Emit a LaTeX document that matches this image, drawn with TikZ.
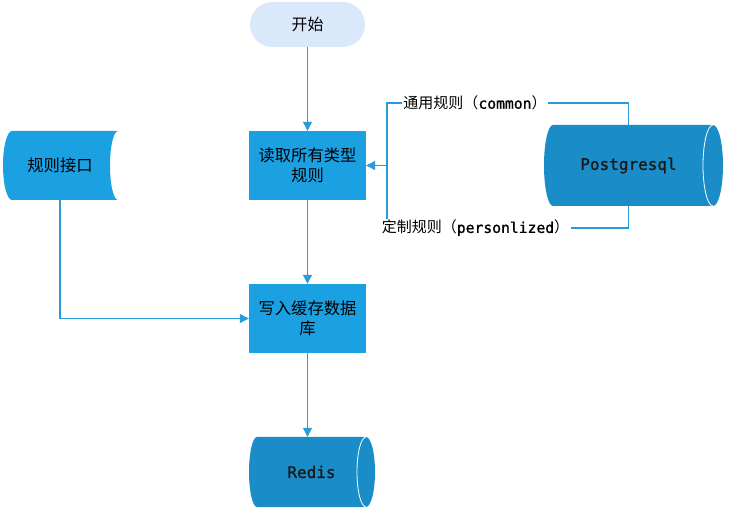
\documentclass[tikz,border=0pt]{standalone}
\usepackage{fontspec}
\setmainfont{Noto Sans CJK SC}
\newfontfamily\monof[FakeBold=1.2]{DejaVu Sans Mono}
\usetikzlibrary{arrows.meta}
\definecolor{boxblue}{HTML}{1BA1E2}
\definecolor{cylblue}{HTML}{1A8CC8}
\definecolor{startblue}{HTML}{DAE8FC}
\definecolor{linecol}{HTML}{2A9BD8}
\tikzset{
  procbox/.style={fill=boxblue, minimum width=117pt, minimum height=69pt, inner sep=2pt, align=center, font=\fontsize{16.3}{20.5}\selectfont, text width=112pt},
  startbox/.style={fill=startblue, rounded corners=22.5pt, minimum width=115pt, minimum height=45pt, font=\fontsize{16}{20}\selectfont},
  conn/.style={draw=linecol, line width=1.2pt},
  arr/.style={conn, -{Triangle[length=9pt,width=9pt]}},
  lbl/.style={fill=white, inner sep=1.5pt, font=\fontsize{15}{17}\selectfont},
  cyltext/.style={font=\monof\fontsize{16}{19}\selectfont, text=black!90},
}
\newcommand{\lbmono}[1]{{\monof\fontsize{14.7}{15}\selectfont #1}}
\begin{document}
\begin{tikzpicture}[x=1pt,y=1pt]
\useasboundingbox (0,0) rectangle (729,512);
% stored-data shape
\fill[boxblue] (12,381) -- (118,381) arc[start angle=90,end angle=270,x radius=8,y radius=34.5]
  -- (12,312) arc[start angle=270,end angle=90,x radius=9,y radius=34.5] -- cycle;
\node[minimum width=116pt,minimum height=69pt,font=\fontsize{16.3}{20}\selectfont] (api) at (60,346.5) {规则接口};
% Postgresql cylinder
\fill[cylblue] (553,387) -- (713,387) arc[start angle=90,end angle=-90,x radius=10,y radius=40.5]
  -- (553,306) arc[start angle=270,end angle=90,x radius=9,y radius=40.5] -- cycle;
\draw[white, line width=0.8pt] (713,387) arc[start angle=90,end angle=270,x radius=10,y radius=40.5];
\node[cyltext, minimum width=160pt, minimum height=81pt] (pg) at (628.5,346.5) {Postgresql};
% Redis cylinder
\fill[cylblue] (257,75) -- (366,75) arc[start angle=90,end angle=-90,x radius=9,y radius=35]
  -- (257,5) arc[start angle=270,end angle=90,x radius=8,y radius=35] -- cycle;
\draw[white, line width=0.8pt] (366,75) arc[start angle=90,end angle=270,x radius=9,y radius=35];
\node[cyltext, minimum width=109pt, minimum height=70pt] (redis) at (311.5,40) {Redis};
% boxes
\node[startbox] (start) at (307.5,487.5) {开始};
\node[procbox] (read) at (307.5,346.5) {读取所有类型\\规则};
\node[procbox] (write) at (307.5,193.5) {写入缓存数据\\库};
% junction coordinate
\coordinate (j) at (387,346.5);
\coordinate (jt) at (387,409);
\coordinate (jb) at (387,284);
% connectors
\draw[arr] (start) -- (read);
\draw[arr] (read) -- (write);
\draw[arr] (write.south) -- (write.south |- redis.north);
\draw[arr] (api.south) |- (write.west);
\draw[conn] (pg.north) |- (jt) -- (j);
\draw[conn] (pg.south) |- (jb) -- (j);
\draw[arr] (j) -- (read.east);
\node[lbl] (l1) at (475,409) {通用规则（\lbmono{common}）};
\node[lbl] (l2) at (475.5,284) {定制规则（\lbmono{personlized}）};
\end{tikzpicture}
\end{document}
